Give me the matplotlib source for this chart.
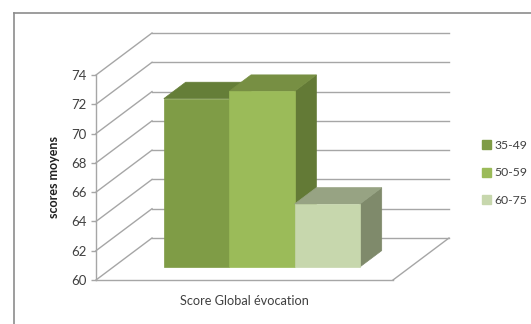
import numpy as np
import matplotlib
matplotlib.use("Agg")
import matplotlib.pyplot as plt
from matplotlib.patches import Polygon, Patch
from matplotlib.lines import Line2D

plt.rcParams['font.family'] = ['Lato', 'DejaVu Sans']

# data
category = "Score Global évocation"
groups = ["35-49", "50-59", "60-75"]
values = [71.5, 72.0, 64.3]
yticks = [60, 62, 64, 66, 68, 70, 72, 74]

# colours: front, top, side
fronts = ["#7f9c46", "#9bbb59", "#c7d7ad"]
tops = ["#657e38", "#778f43", "#97a383"]
sides = ["#566b30", "#637a36", "#7f8a6b"]
grid = "#a6a6a6"

W, H = 531, 324
fig = plt.figure(figsize=(W / 100, H / 100), dpi=100)
ax = fig.add_axes([96 / W, (H - 280) / H, 297 / W, 205 / H])
ax.set_xlim(0, 1)
ax.set_ylim(60, 74)

# depth of the 3d box in data units
ddx = 56 / 297
ddy = 42 / (205 / 14)
f0, f1 = 0.31, 0.70   # front and back of the bars, as fraction of depth

# side wall + back wall gridlines
for v in yticks:
    ax.plot([0, ddx], [v, v + ddy], color=grid, lw=1, clip_on=False, zorder=1)
    ax.plot([ddx, 1 + ddx], [v + ddy, v + ddy], color=grid, lw=1, clip_on=False, zorder=1)
# floor right edge
ax.plot([1, 1 + ddx], [60, 60 + ddy], color=grid, lw=1, clip_on=False, zorder=1)

# bars
bw = 0.22
for i, v in enumerate(values):
    x0 = 0.5 + (i - 1.5) * bw
    x1 = x0 + bw
    ax0, ay0 = f0 * ddx, f0 * ddy
    bx, by = (f1 - f0) * ddx, (f1 - f0) * ddy
    front = [(x0 + ax0, 60 + ay0), (x1 + ax0, 60 + ay0), (x1 + ax0, v + ay0), (x0 + ax0, v + ay0)]
    top = [(x0 + ax0, v + ay0), (x1 + ax0, v + ay0), (x1 + ax0 + bx, v + ay0 + by), (x0 + ax0 + bx, v + ay0 + by)]
    side = [(x1 + ax0, 60 + ay0), (x1 + ax0 + bx, 60 + ay0 + by), (x1 + ax0 + bx, v + ay0 + by), (x1 + ax0, v + ay0)]
    for pts, c in ((side, sides[i]), (top, tops[i]), (front, fronts[i])):
        ax.add_patch(Polygon(pts, closed=True, facecolor=c, edgecolor=c, lw=0.5,
                             clip_on=False, zorder=2 + i))

for s in ("top", "right"):
    ax.spines[s].set_visible(False)
for s in ("left", "bottom"):
    ax.spines[s].set_color(grid)
    ax.spines[s].set_linewidth(1)
ax.set_facecolor("none")
ax.set_yticks(yticks)
ax.tick_params(axis="y", colors=grid, labelcolor="#404040", length=3.6, width=1,
               pad=3, labelsize=9.5)
ax.set_xticks([0.5])
ax.set_xticklabels([category])
ax.tick_params(axis="x", length=0, pad=11, labelsize=9.2, labelcolor="#404040")
ax.set_ylabel("scores moyens", fontsize=9, fontweight="bold", color="#202020", labelpad=8)

handles = [Patch(facecolor=c, edgecolor=c) for c in fronts]
fig.legend(handles, groups, loc="center left", bbox_to_anchor=(476 / W, 1 - 173 / H),
           frameon=False, handlelength=0.7, handleheight=0.7, handletextpad=0.3,
           labelspacing=1.35, borderpad=0, fontsize=8.8, labelcolor="#404040")

# chart border (top and left visible)
fig.add_artist(Line2D([14 / W, 1], [1 - 13 / H, 1 - 13 / H], color="#8c8c8c", lw=1.2))
fig.add_artist(Line2D([14 / W, 14 / W], [1 - 13 / H, 0], color="#8c8c8c", lw=1.2))

fig.savefig("out.png", dpi=100)
